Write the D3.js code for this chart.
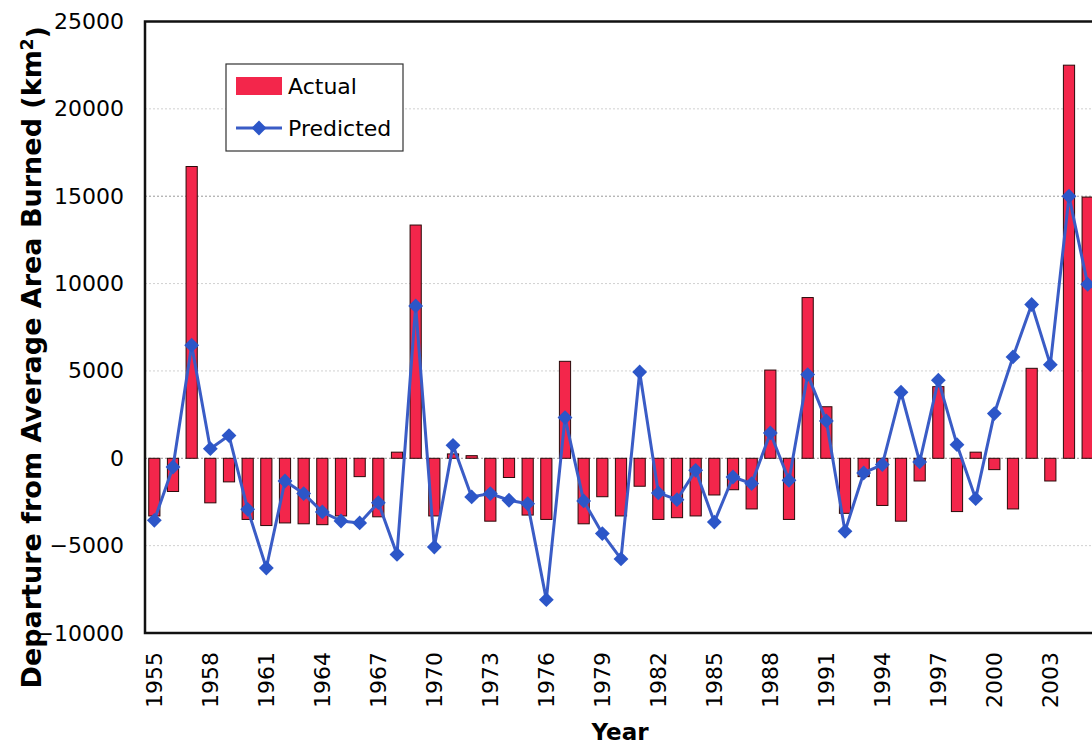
<!DOCTYPE html>
<html>
<head>
<meta charset="utf-8">
<script src="https://cdn.jsdelivr.net/npm/d3@7"></script>
<style>
  html, body { margin: 0; padding: 0; background: #fff; }
  svg { display: block; }
  text { font-family: "DejaVu Sans", Verdana, sans-serif; fill: #000; }
</style>
</head>
<body>
<svg id="chart" width="1092" height="746"></svg>
<script>
const years = [1955,1956,1957,1958,1959,1960,1961,1962,1963,1964,
  1965,1966,1967,1968,1969,1970,1971,1972,1973,1974,
  1975,1976,1977,1978,1979,1980,1981,1982,1983,1984,
  1985,1986,1987,1988,1989,1990,1991,1992,1993,1994,
  1995,1996,1997,1998,1999,2000,2001,2002,2003,2004,2005];

const actual = [-3300,-1900,16700,-2550,-1350,-3500,-3850,-3700,-3750,-3800,
  -3300,-1050,-3350,350,13350,-3300,250,150,-3600,-1100,
  -3250,-3500,5550,-3750,-2200,-3300,-1600,-3500,-3400,-3300,
  -2100,-1800,-2900,5050,-3500,9200,2950,-3150,-1050,-2700,
  -3600,-1300,4100,-3050,350,-650,-2900,5150,-1300,22500,14950];

const predicted = [-3550,-500,6470,550,1300,-2920,-6280,-1300,-2020,-3070,
  -3590,-3700,-2540,-5500,8720,-5080,740,-2210,-2020,-2400,
  -2600,-8090,2330,-2440,-4310,-5760,4940,-1980,-2370,-690,
  -3650,-1070,-1450,1450,-1260,4790,2140,-4180,-840,-360,
  3780,-210,4470,780,-2310,2560,5800,8800,5360,15000,9960];

const yTicks = [-10000,-5000,0,5000,10000,15000,20000,25000];
const xTickYears = [1955,1958,1961,1964,1967,1970,1973,1976,1979,1982,1985,1988,1991,1994,1997,2000,2003];
const seriesNames = ["Actual","Predicted"];
const yTitle = "Departure from Average Area Burned (km";
const xTitle = "Year";

const svg = d3.select("#chart");
const L = 145, R = 1097, T = 21.5, B = 633;

const x = d3.scaleBand().domain(years).range([L, R]).padding(0);
const y = d3.scaleLinear().domain([-10000, 25000]).range([B, T]);
const bw = x.bandwidth();
const cx = d => x(d) + bw / 2;

// gridlines
svg.append("g").selectAll("line")
  .data(yTicks.filter(v => v > -10000 && v < 25000))
  .join("line")
  .attr("x1", L).attr("x2", R)
  .attr("y1", d => y(d)).attr("y2", d => y(d))
  .attr("stroke", d => (d === 0 || d === 15000) ? "#9a9a9a" : "#d0d0d0")
  .attr("stroke-width", 1)
  .attr("stroke-dasharray", "2,2");

// bars
const barW = bw * 0.6;
svg.append("g").selectAll("rect")
  .data(years.map((yr, i) => ({yr, v: actual[i]})))
  .join("rect")
  .attr("x", d => cx(d.yr) - barW / 2)
  .attr("width", barW)
  .attr("y", d => y(Math.max(0, d.v)))
  .attr("height", d => Math.abs(y(d.v) - y(0)))
  .attr("fill", "#f3264b")
  .attr("stroke", "#2a0a0a")
  .attr("stroke-width", 1);

// predicted line
const pts = years.map((yr, i) => ({yr, v: predicted[i]}));
svg.append("path")
  .datum(pts)
  .attr("fill", "none")
  .attr("stroke", "#3a5cc6")
  .attr("stroke-width", 3)
  .attr("stroke-linejoin", "round")
  .attr("d", d3.line().x(d => cx(d.yr)).y(d => y(d.v)));

const diamond = d3.symbol().type(d3.symbolSquare).size(110);
svg.append("g").selectAll("path")
  .data(pts)
  .join("path")
  .attr("d", diamond)
  .attr("transform", d => `translate(${cx(d.yr)},${y(d.v)}) rotate(45)`)
  .attr("fill", "#2c56c8");

// plot border
svg.append("rect")
  .attr("x", L).attr("y", T).attr("width", R - L).attr("height", B - T)
  .attr("fill", "none").attr("stroke", "#111").attr("stroke-width", 2.5);

// y axis
const yAxis = svg.append("g")
  .attr("transform", `translate(${L},0)`)
  .call(d3.axisLeft(y).tickValues(yTicks).tickSize(0).tickPadding(21).tickFormat(d3.format("d")));
yAxis.select(".domain").remove();
yAxis.selectAll("text").style("font-size", "22px").attr("fill", "#000");

// x axis
const xAxis = svg.append("g")
  .attr("transform", `translate(0,${B})`)
  .call(d3.axisBottom(x).tickValues(xTickYears).tickSize(0));
xAxis.select(".domain").remove();
xAxis.selectAll("text")
  .style("font-size", "22px")
  .attr("fill", "#000")
  .attr("transform", "rotate(-90)")
  .attr("x", -19)
  .attr("y", 0)
  .attr("dy", "0.36em")
  .attr("text-anchor", "end");

// axis titles
svg.append("text")
  .attr("x", (L + R) / 2 - 1).attr("y", 740)
  .attr("text-anchor", "middle")
  .style("font-size", "23px").style("font-weight", "bold")
  .text(xTitle);

const yt = svg.append("text")
  .attr("transform", `translate(41,${(T + B) / 2 + 30}) rotate(-90)`)
  .attr("text-anchor", "middle")
  .style("font-size", "27px").style("font-weight", "bold");
yt.append("tspan").text(yTitle);
yt.append("tspan").attr("dy", "-0.45em").style("font-size", "17px").text("2");
yt.append("tspan").attr("dy", "0.45em").text(")");

// legend
const lg = svg.append("g");
lg.append("rect")
  .attr("x", 226).attr("y", 64).attr("width", 177).attr("height", 87)
  .attr("fill", "#fff").attr("stroke", "#333").attr("stroke-width", 1.2);
lg.append("rect")
  .attr("x", 236).attr("y", 77).attr("width", 46).attr("height", 18)
  .attr("fill", "#f3264b");
lg.append("text").attr("x", 288).attr("y", 94).style("font-size", "22px").text(seriesNames[0]);
lg.append("line")
  .attr("x1", 236).attr("x2", 282).attr("y1", 128).attr("y2", 128)
  .attr("stroke", "#3a5cc6").attr("stroke-width", 3);
lg.append("path")
  .attr("d", diamond)
  .attr("transform", "translate(259,128) rotate(45)")
  .attr("fill", "#2c56c8");
lg.append("text").attr("x", 288).attr("y", 136).style("font-size", "22px").text(seriesNames[1]);
</script>
</body>
</html>
